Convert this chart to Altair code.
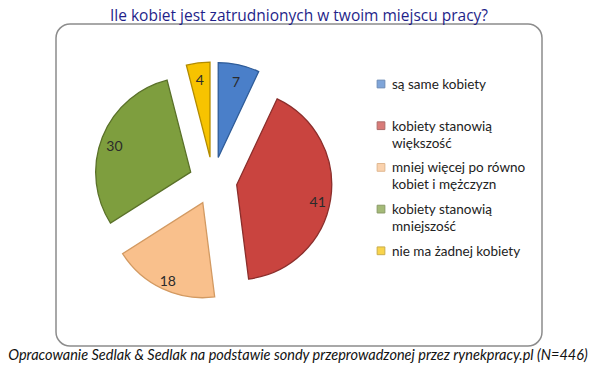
import altair as alt
import pandas as pd

title_text = "Ile kobiet jest zatrudnionych w twoim miejscu pracy?"
footer_text = "Opracowanie Sedlak & Sedlak na podstawie sondy przeprowadzonej przez rynekpracy.pl (N=446)"

categories = [
    "są same kobiety",
    "kobiety stanowią\nwiększość",
    "mniej więcej po równo\nkobiet i mężczyzn",
    "kobiety stanowią\nmniejszość",
    "nie ma żadnej kobiety",
]
values = [7, 41, 18, 30, 4]
fills = ["#4A7FC9", "#C9443F", "#F9C08C", "#7E9E3E", "#F7C300"]
strokes = ["#2F5C98", "#8B2E2B", "#D39A62", "#5A7129", "#B38C00"]

df = pd.DataFrame({
    "cat": categories,
    "value": values,
    "order": list(range(len(values))),
    "fill": fills,
    "stroke": strokes,
})

W, H = 486, 322
CX, CY = 157, 157
R = 95
EXPLODE = 24
LR = 82
LEG_X, LEG_Y0, LEG_STEP = 325, 60, 41.7

base = (
    alt.Chart(df)
    .transform_window(cum="sum(value)", sort=[alt.SortField("order")], frame=[None, 0])
    .transform_joinaggregate(total="sum(value)")
    .transform_calculate(
        t1="datum.cum / datum.total * 2 * PI",
        t0="(datum.cum - datum.value) / datum.total * 2 * PI",
    )
    .transform_calculate(mid="(datum.t0 + datum.t1) / 2")
    .transform_calculate(
        cx=f"{CX} + {EXPLODE} * sin(datum.mid)",
        cy=f"{CY} - {EXPLODE} * cos(datum.mid)",
        lx=f"{CX} + ({EXPLODE} + {LR}) * sin(datum.mid)",
        ly=f"{CY} - ({EXPLODE} + {LR}) * cos(datum.mid)",
        legy=f"{LEG_Y0} + datum.order * {LEG_STEP}",
    )
)

arcs = base.mark_arc(outerRadius=R, strokeWidth=1.3).encode(
    theta=alt.Theta("t0:Q", scale=None, stack=None),
    theta2="t1:Q",
    x=alt.X("cx:Q", scale=None),
    y=alt.Y("cy:Q", scale=None),
    fill=alt.Fill("fill:N", scale=None),
    stroke=alt.Stroke("stroke:N", scale=None),
)

labels = base.mark_text(font="Lato", fontSize=14, color="#2b2b2b", dy=5).encode(
    x=alt.X("lx:Q", scale=None),
    y=alt.Y("ly:Q", scale=None),
    text=alt.Text("value:Q"),
)

leg_sq = base.mark_square(size=60, strokeWidth=1).encode(
    x=alt.value(LEG_X),
    y=alt.Y("legy:Q", scale=None),
    fill=alt.Fill("fill:N", scale=None),
    stroke=alt.Stroke("stroke:N", scale=None),
)

leg_txt = base.mark_text(
    font="Lato", fontSize=13.5, color="#222222", align="left",
    baseline="alphabetic", dy=5, lineBreak="\n", lineHeight=17,
).encode(
    x=alt.value(LEG_X + 11),
    y=alt.Y("legy:Q", scale=None),
    text="cat:N",
)

title = alt.Chart(pd.DataFrame({"t": [title_text]})).mark_text(
    font="Open Sans", fontSize=15.5, color="#1F1F8A", baseline="alphabetic",
).encode(
    x=alt.value(W / 2),
    y=alt.value(-3.5),
    text="t:N",
)

footer = alt.Chart(pd.DataFrame({"t": [footer_text]})).mark_text(
    font="Lato", fontSize=14.5, fontStyle="italic", color="#111111",
).encode(
    x=alt.value(W / 2 - 1),
    y=alt.value(H + 10),
    text="t:N",
)

chart = (
    alt.layer(arcs, labels, leg_sq, leg_txt, title, footer)
    .properties(
        width=W,
        height=H,
        autosize=alt.AutoSizeParams(type="none"),
        padding={"left": 48, "top": 16, "right": 46, "bottom": 22},
    )
    .configure_view(stroke="#8c8c8c", strokeWidth=1.5, cornerRadius=14)
)

chart.save("out.html", embed_options={"renderer": "svg", "actions": False})
